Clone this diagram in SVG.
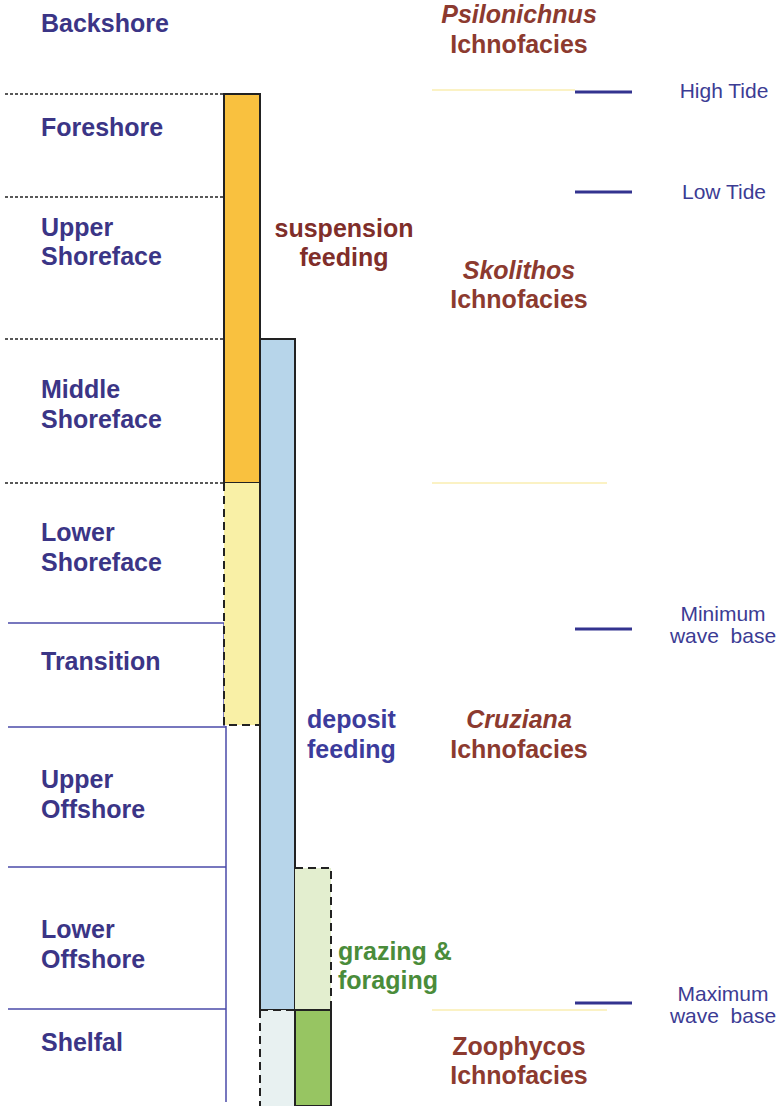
<svg xmlns="http://www.w3.org/2000/svg" width="780" height="1106" viewBox="0 0 780 1106">
<style>
.zone{font-family:"Liberation Sans",Arial,sans-serif;font-weight:bold;font-size:25px;fill:#3b3586}
.ich{font-family:"Liberation Sans",Arial,sans-serif;font-weight:bold;font-size:25px;fill:#8c3a2f;text-anchor:middle}
.it{font-style:italic}
.lvl{font-family:"Liberation Sans",Arial,sans-serif;font-size:21px;fill:#3c3c94;text-anchor:middle;white-space:pre}
.feed{font-family:"Liberation Sans",Arial,sans-serif;font-weight:bold;font-size:25px}
.dline{stroke:#222;stroke-width:1.3;stroke-dasharray:3 2;fill:none}
.bline{stroke:#4a4aa8;stroke-width:1.5;fill:none}
.tick{stroke:#33338f;stroke-width:3}
.sep{stroke:#fbf2c4;stroke-width:2}
.solid{stroke:#222;stroke-width:2}
.dash{stroke:#222;stroke-width:2;stroke-dasharray:8 5;fill:none}
</style>
<rect width="780" height="1106" fill="#ffffff"/>
<g id="connectors">
<line class="dline" x1="5" y1="94" x2="224" y2="94"/>
<line class="dline" x1="5" y1="197" x2="224" y2="197"/>
<line class="dline" x1="5" y1="339" x2="224" y2="339"/>
<line class="dline" x1="5" y1="483" x2="224" y2="483"/>
<line class="bline" x1="8" y1="623" x2="224" y2="623"/>
<line class="bline" x1="8" y1="727" x2="226" y2="727"/>
<line class="bline" x1="8" y1="867" x2="226" y2="867"/>
<line class="bline" x1="8" y1="1009" x2="226" y2="1009"/>
<line class="bline" x1="224" y1="623" x2="224" y2="726"/>
<line class="bline" x1="226" y1="726" x2="226" y2="1102"/>
<line class="sep" x1="432" y1="90" x2="575" y2="90"/>
<line class="sep" x1="432" y1="483" x2="607" y2="483"/>
<line class="sep" x1="432" y1="1010" x2="607" y2="1010"/>
<line class="tick" x1="575" y1="92" x2="632" y2="92"/>
<line class="tick" x1="575" y1="192" x2="632" y2="192"/>
<line class="tick" x1="575" y1="629" x2="632" y2="629"/>
<line class="tick" x1="575" y1="1003" x2="632" y2="1003"/>
</g>
<g id="bar-suspension">
<rect x="224" y="94" width="36" height="389" fill="#f9c13f" class="solid"/>
</g>
<g id="bar-suspension-weak">
<rect x="224" y="483" width="36" height="242" fill="#f9f0a6"/>
<path class="dash" d="M224,483 V725 H260"/>
</g>
<g id="bar-deposit">
<rect x="260" y="339" width="35" height="671" fill="#b7d5ea" class="solid"/>
</g>
<g id="bar-deposit-weak">
<rect x="260" y="1010" width="35" height="96" fill="#e8f1f1"/>
<path class="dash" d="M260,1010 H295 M260,1010 V1106"/>
</g>
<g id="bar-grazing-weak">
<rect x="295" y="868" width="36" height="142" fill="#e3eecf"/>
<path class="dash" d="M295,868 H331 V1010"/>
</g>
<g id="bar-grazing">
<rect x="295" y="1010" width="36" height="96" fill="#97c562" class="solid"/>
</g>
<g id="zones">
<text class="zone" x="41" y="32">Backshore</text>
<text class="zone" x="41" y="136">Foreshore</text>
<text class="zone" x="41" y="236">Upper</text>
<text class="zone" x="41" y="265">Shoreface</text>
<text class="zone" x="41" y="398">Middle</text>
<text class="zone" x="41" y="428">Shoreface</text>
<text class="zone" x="41" y="541">Lower</text>
<text class="zone" x="41" y="571">Shoreface</text>
<text class="zone" x="41" y="670">Transition</text>
<text class="zone" x="41" y="788">Upper</text>
<text class="zone" x="41" y="818">Offshore</text>
<text class="zone" x="41" y="938">Lower</text>
<text class="zone" x="41" y="968">Offshore</text>
<text class="zone" x="41" y="1051">Shelfal</text>
</g>
<g id="feeding-labels">
<text class="feed" x="344" y="237" text-anchor="middle" fill="#7f2e2a">suspension</text>
<text class="feed" x="344" y="266" text-anchor="middle" fill="#7f2e2a">feeding</text>
<text class="feed" x="307" y="728" fill="#3c3c9c">deposit</text>
<text class="feed" x="307" y="758" fill="#3c3c9c">feeding</text>
<text class="feed" x="338" y="960" fill="#4a8c3a">grazing &amp;</text>
<text class="feed" x="338" y="989" fill="#4a8c3a">foraging</text>
</g>
<g id="ichnofacies">
<text class="ich it" x="519" y="23">Psilonichnus</text>
<text class="ich" x="519" y="53">Ichnofacies</text>
<text class="ich it" x="519" y="279">Skolithos</text>
<text class="ich" x="519" y="308">Ichnofacies</text>
<text class="ich it" x="519" y="728">Cruziana</text>
<text class="ich" x="519" y="758">Ichnofacies</text>
<text class="ich" x="519" y="1055">Zoophycos</text>
<text class="ich" x="519" y="1084">Ichnofacies</text>
</g>
<g id="levels">
<text class="lvl" x="724" y="98">High Tide</text>
<text class="lvl" x="724" y="199">Low Tide</text>
<text class="lvl" x="723" y="621">Minimum</text>
<text class="lvl" x="723" y="643">wave  base</text>
<text class="lvl" x="723" y="1001">Maximum</text>
<text class="lvl" x="723" y="1023">wave  base</text>
</g>
</svg>
